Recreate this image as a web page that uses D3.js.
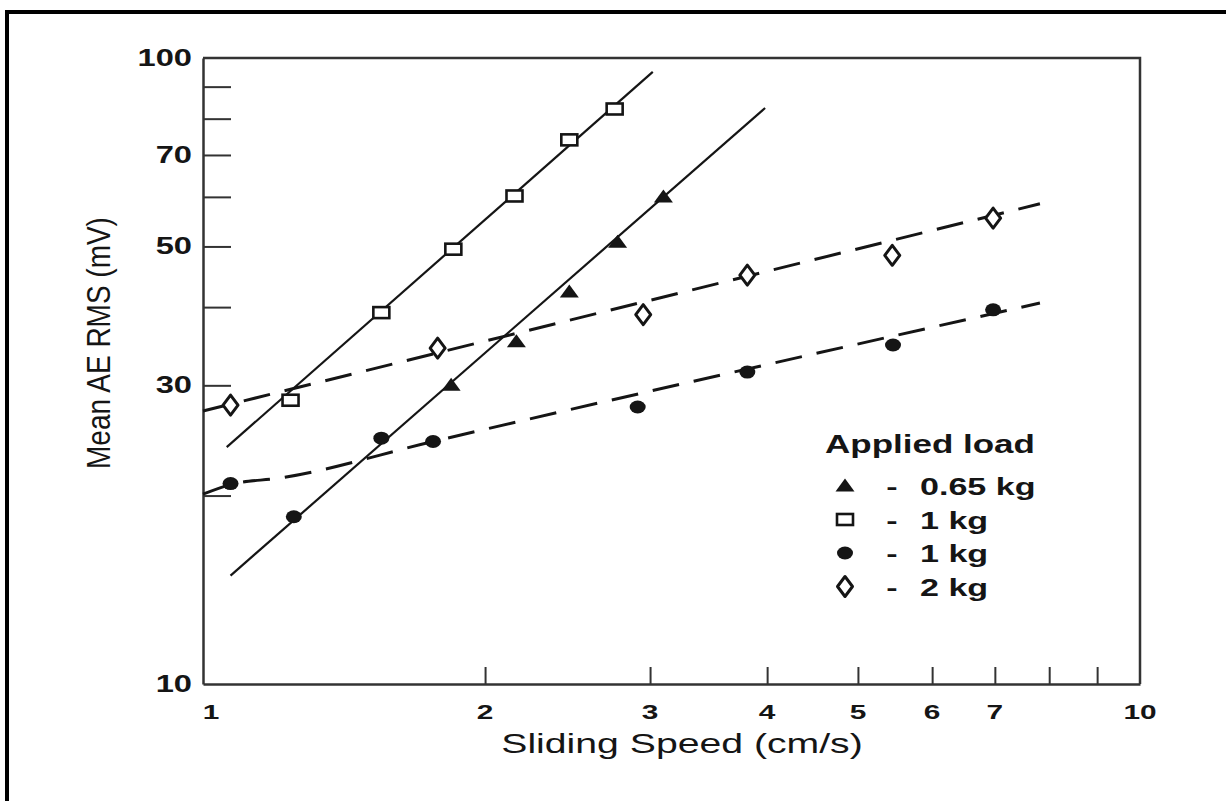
<!DOCTYPE html>
<html>
<head>
<meta charset="utf-8">
<script src="https://cdn.jsdelivr.net/npm/d3@7"></script>
<style>
  html, body { margin: 0; padding: 0; background: #fff; }
  svg { display: block; font-family: "Liberation Sans", Arial, sans-serif; }
</style>
</head>
<body>
<div id="chart"></div>
<script>
// ticks
const xTickLabels = [1, 2, 3, 4, 5, 6, 7, 10];
const xTickMarks = [2, 3, 4, 5, 6, 7, 8, 9];
const yTickLabels = [10, 30, 50, 70, 100];
const yTickMarks = [20, 30, 40, 50, 60, 70, 80, 90];

// measured points (sliding speed cm/s, mean AE RMS mV)
const triSpeed = [1.84, 2.16, 2.46, 2.77, 3.10];
const triRms   = [30.0, 35.2, 42.3, 50.8, 60.0];
const sqSpeed  = [1.24, 1.55, 1.85, 2.15, 2.46, 2.75];
const sqRms    = [28.4, 39.2, 49.5, 60.2, 74.0, 82.9];
const dotSpeed = [1.07, 1.25, 1.55, 1.76, 2.91, 3.81, 5.45, 6.97];
const dotRms   = [20.9, 18.5, 24.7, 24.4, 27.7, 31.5, 34.8, 39.6];
const dmdSpeed = [1.07, 1.78, 2.95, 3.81, 5.44, 6.97];
const dmdRms   = [27.9, 34.4, 38.9, 45.0, 48.4, 55.5];

// fitted lines
const triFit = [[1.07, 14.9], [3.98, 83.2]];
const sqFit  = [[1.06, 23.9], [3.02, 95.0]];
const dotFit = [[1.0, 20.1], [1.08, 20.9], [1.2, 21.3], [1.76, 24.4], [7.82, 40.6]];
const dmdFit = [[1.0, 27.3], [7.82, 58.5]];

const legendLabels = ['0.65 kg', '1 kg', '1 kg', '2 kg'];
const legendKinds  = ['tri', 'sq', 'dot', 'dmd'];

const W = 1226, H = 801;
const SX = 1.42; // the scanned lettering is stretched sideways
const ink = '#151515';

const svg = d3.select('#chart').append('svg')
  .attr('width', W).attr('height', H);

const x = d3.scaleLog().domain([1, 10]).range([203, 1140]);
const y = d3.scaleLog().domain([10, 100]).range([684, 58]);

// scan frame
svg.append('path')
  .attr('d', `M7,${H}V12H${W}`)
  .attr('fill', 'none').attr('stroke', '#000').attr('stroke-width', 4);

// plot box
const axisStyle = g => {
  g.selectAll('path.domain').attr('stroke', '#333').attr('stroke-width', 2.5);
  g.selectAll('.tick line').attr('stroke', '#333').attr('stroke-width', 2);
};

svg.append('g')
  .attr('transform', `translate(0,${y(10)})`)
  .call(d3.axisBottom(x).tickValues(xTickMarks).tickSize(-17).tickSizeOuter(0).tickFormat(''))
  .call(axisStyle);

svg.append('g')
  .attr('transform', `translate(${x(1)},0)`)
  .call(d3.axisLeft(y).tickValues(yTickMarks).tickSize(-28).tickSizeOuter(0).tickFormat(''))
  .call(axisStyle);

svg.append('path')
  .attr('d', `M${x(1)},${y(100)}H${x(10)}V${y(10)}`)
  .attr('fill', 'none').attr('stroke', '#333').attr('stroke-width', 2.5);

// tick labels
svg.append('g').selectAll('text')
  .data(xTickLabels)
  .join('text')
    .attr('transform', d => `translate(${x(d) + (d === 1 ? 8 : 0)},719) scale(${SX},1)`)
    .attr('text-anchor', 'middle')
    .attr('font-size', 21).attr('font-weight', 700).attr('fill', ink)
    .text(d => d);

svg.append('g').selectAll('text')
  .data(yTickLabels)
  .join('text')
    .attr('transform', d => `translate(192,${y(d) + 8}) scale(${SX},1)`)
    .attr('text-anchor', 'end')
    .attr('font-size', 23).attr('font-weight', 700).attr('fill', ink)
    .text(d => d);

// axis titles
svg.append('text')
  .attr('transform', `translate(682,753) scale(1.4,1)`)
  .attr('text-anchor', 'middle')
  .attr('font-size', 28).attr('fill', ink)
  .text('Sliding Speed (cm/s)');

svg.append('text')
  .attr('transform', `translate(110,343) rotate(-90) scale(1,1.2)`)
  .attr('text-anchor', 'middle')
  .attr('font-size', 28).attr('fill', ink)
  .text('Mean AE RMS (mV)');

// fit lines
const line = d3.line().x(d => x(d[0])).y(d => y(d[1]));
const curve = d3.line().x(d => x(d[0])).y(d => y(d[1])).curve(d3.curveMonotoneX);

svg.append('path').datum(triFit).attr('d', line)
  .attr('fill', 'none').attr('stroke', ink).attr('stroke-width', 2.2);
svg.append('path').datum(sqFit).attr('d', line)
  .attr('fill', 'none').attr('stroke', ink).attr('stroke-width', 2.2);
svg.append('path').datum(dotFit).attr('d', curve)
  .attr('fill', 'none').attr('stroke', ink).attr('stroke-width', 3)
  .attr('stroke-dasharray', '27,15');
svg.append('path').datum(dmdFit).attr('d', line)
  .attr('fill', 'none').attr('stroke', ink).attr('stroke-width', 3)
  .attr('stroke-dasharray', '27,15');

// marker shapes
function marker(sel, kind){
  if(kind === 'tri'){
    sel.append('path').attr('d', 'M0,-7.5L9.5,5.5L-9.5,5.5Z').attr('fill', ink);
  } else if(kind === 'sq'){
    sel.append('rect').attr('x', -8).attr('y', -5.5).attr('width', 16).attr('height', 11)
      .attr('fill', '#fff').attr('stroke', ink).attr('stroke-width', 2.6);
  } else if(kind === 'dot'){
    sel.append('ellipse').attr('rx', 8).attr('ry', 6.5).attr('fill', ink);
  } else {
    sel.append('path').attr('d', 'M0,-10L7.5,0L0,10L-7.5,0Z')
      .attr('fill', '#fff').attr('stroke', ink).attr('stroke-width', 3)
      .attr('stroke-linejoin', 'round');
  }
}

const series = [
  {kind: 'tri', xs: triSpeed, ys: triRms},
  {kind: 'sq',  xs: sqSpeed,  ys: sqRms},
  {kind: 'dot', xs: dotSpeed, ys: dotRms},
  {kind: 'dmd', xs: dmdSpeed, ys: dmdRms}
];

series.forEach(s => {
  s.xs.forEach((v, i) => {
    const g = svg.append('g').attr('transform', `translate(${x(v)},${y(s.ys[i])})`);
    marker(g, s.kind);
  });
});

// legend
const leg = svg.append('g');
leg.append('text')
  .attr('transform', `translate(825,453) scale(1.4,1)`)
  .attr('font-size', 25).attr('font-weight', 700).attr('fill', ink)
  .text('Applied load');

legendLabels.forEach((lab, i) => {
  const by = 495 + i * 33.5;
  const g = leg.append('g').attr('transform', `translate(845,${by - 9})`);
  marker(g, legendKinds[i]);
  leg.append('text')
    .attr('transform', `translate(892,${by}) scale(${SX},1)`)
    .attr('text-anchor', 'middle')
    .attr('font-size', 24).attr('font-weight', 700).attr('fill', ink)
    .text('-');
  leg.append('text')
    .attr('transform', `translate(920,${by}) scale(${SX},1)`)
    .attr('font-size', 24).attr('font-weight', 700).attr('fill', ink)
    .text(lab);
});
</script>
</body>
</html>
